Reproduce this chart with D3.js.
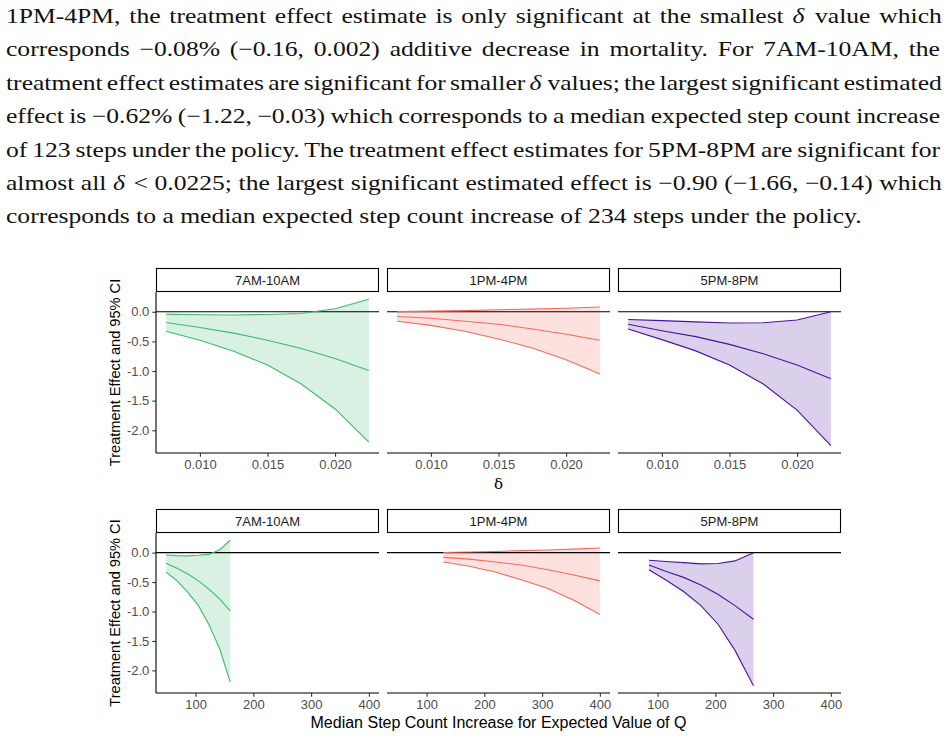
<!DOCTYPE html>
<html>
<head>
<meta charset="utf-8">
<script src="https://cdn.jsdelivr.net/npm/d3@7"></script>
<style>
  body { margin: 0; background: #fff; }
  svg { display: block; }
</style>
</head>
<body>
<div id="chart"></div>
<script>
// paragraph above the figure
var paraLines = [
  "1PM-4PM, the treatment effect estimate is only significant at the smallest δ value which",
  "corresponds −0.08% (−0.16, 0.002) additive decrease in mortality.  For 7AM-10AM, the",
  "treatment effect estimates are significant for smaller δ values; the largest significant estimated",
  "effect is −0.62% (−1.22, −0.03) which corresponds to a median expected step count increase",
  "of 123 steps under the policy.  The treatment effect estimates for 5PM-8PM are significant for",
  "almost all δ < 0.0225; the largest significant estimated effect is −0.90 (−1.66, −0.14) which",
  "corresponds to a median expected step count increase of 234 steps under the policy."
];

// data
var windows = ["7AM-10AM", "1PM-4PM", "5PM-8PM"];
var colors = ["#3dbb6c", "#f66a5a", "#4b12a0"];
var delta = [0.0075, 0.01, 0.0125, 0.015, 0.0175, 0.02, 0.0225];

var stepsAM  = [49, 68, 86, 105, 123, 142, 160];
var stepsMid = [129, 174, 219, 264, 310, 355, 400];
var stepsPM  = [85, 115, 145, 175, 205, 234, 266];

var estAM = [-0.18, -0.265, -0.36, -0.48, -0.62, -0.79, -0.99];
var lowAM = [-0.33, -0.48, -0.665, -0.90, -1.22, -1.64, -2.20];
var upAM  = [-0.04, -0.05, -0.055, -0.045, -0.03, 0.05, 0.21];

var estMid = [-0.08, -0.11, -0.16, -0.21, -0.29, -0.38, -0.48];
var lowMid = [-0.16, -0.23, -0.33, -0.46, -0.61, -0.81, -1.05];
var upMid  = [0.002, 0.01, 0.02, 0.035, 0.045, 0.06, 0.08];

var estPM = [-0.21, -0.32, -0.42, -0.55, -0.71, -0.90, -1.13];
var lowPM = [-0.29, -0.47, -0.66, -0.90, -1.22, -1.66, -2.26];
var upPM  = [-0.13, -0.15, -0.17, -0.19, -0.185, -0.14, 0.0];

var yTicks = [0, -0.5, -1, -1.5, -2];
var deltaTicks = [0.010, 0.015, 0.020];
var stepTicks = [100, 200, 300, 400];

var steps = [stepsAM, stepsMid, stepsPM];
var ests = [estAM, estMid, estPM];
var lows = [lowAM, lowMid, lowPM];
var ups = [upAM, upMid, upPM];

var W = 948, H = 739;
var svg = d3.select("#chart").append("svg").attr("width", W).attr("height", H);

// ---- justified paragraph ----
// Computer Modern is wider than Times, so the text is stretched sideways to match
var textLeft = 6, textRight = 940, lastLineWidth = 856;
var paraTexts = paraLines.map(function(line, i){
  var t = svg.append("text")
    .attr("y", 23 + i * 33.4)
    .attr("font-family", "'Liberation Serif', 'DejaVu Serif', serif")
    .attr("font-size", 21)
    .attr("fill", "#111");
  var parts = line.split("δ");
  parts.forEach(function(p, k){
    var sp = t.append("tspan").text(p);
    if (k > 0) sp.attr("dx", 1.5);
    if (k < parts.length - 1) t.append("tspan").attr("font-style", "italic").text("δ");
  });
  return t;
});
var sx = lastLineWidth / paraTexts[paraTexts.length - 1].node().getComputedTextLength();
paraTexts.forEach(function(t, i){
  t.attr("x", textLeft / sx).attr("transform", "scale(" + sx + ",1)");
  if (i < paraLines.length - 1) {
    var w = t.node().getComputedTextLength();
    var nSpaces = paraLines[i].replace(/\s+/g, " ").split(" ").length - 1;
    t.attr("word-spacing", ((textRight - textLeft) / sx - w) / nSpaces);
  }
});

// ---- facets ----
var panelX = [[156, 379], [387, 610], [618, 841]];
var rows = [
  { stripTop: 268, panelTop: 292, panelBot: 453, xs: function(i){ return delta; },
    ticks: deltaTicks, fmt: d3.format(".3f"), title: "δ", titleY: 489, serifTitle: true },
  { stripTop: 509, panelTop: 533, panelBot: 693, xs: function(i){ return steps[i]; },
    ticks: stepTicks, fmt: d3.format("d"), title: "Median Step Count Increase for Expected Value of Q", titleY: 728, serifTitle: false }
];

var allVals = [].concat(lowAM, lowMid, lowPM, upAM, upMid, upPM);
var yMin = d3.min(allVals), yMax = d3.max(allVals);
var yPad = (yMax - yMin) * 0.05;

var sans = "'Liberation Sans', Arial, Helvetica, sans-serif";

rows.forEach(function(row, r){
  var y = d3.scaleLinear().domain([yMin - yPad, yMax + yPad]).range([row.panelBot, row.panelTop]);

  var allX = r === 0 ? delta : [].concat(stepsAM, stepsMid, stepsPM);
  var xMin = d3.min(allX), xMax = d3.max(allX), xPad = (xMax - xMin) * 0.05;

  windows.forEach(function(name, i){
    var x = d3.scaleLinear().domain([xMin - xPad, xMax + xPad]).range(panelX[i]);
    var g = svg.append("g");
    var xs = row.xs(i);
    var pts = xs.map(function(v, k){ return { x: v, est: ests[i][k], lo: lows[i][k], hi: ups[i][k] }; });

    // ribbon
    g.append("path")
      .datum(pts)
      .attr("fill", colors[i])
      .attr("fill-opacity", 0.2)
      .attr("d", d3.area().x(function(d){ return x(d.x); }).y0(function(d){ return y(d.lo); }).y1(function(d){ return y(d.hi); }));

    // zero line
    g.append("line")
      .attr("x1", panelX[i][0]).attr("x2", panelX[i][1])
      .attr("y1", y(0)).attr("y2", y(0))
      .attr("stroke", "#000").attr("stroke-width", 1.1);

    ["lo", "est", "hi"].forEach(function(key){
      g.append("path")
        .datum(pts)
        .attr("fill", "none")
        .attr("stroke", colors[i])
        .attr("stroke-width", 1.1)
        .attr("d", d3.line().x(function(d){ return x(d.x); }).y(function(d){ return y(d[key]); }));
    });

    // strip
    svg.append("rect")
      .attr("x", panelX[i][0] + 0.5).attr("y", row.stripTop + 0.5)
      .attr("width", panelX[i][1] - panelX[i][0] - 1).attr("height", row.panelTop - row.stripTop - 1)
      .attr("fill", "#fff").attr("stroke", "#000").attr("stroke-width", 1.1);
    svg.append("text")
      .attr("x", (panelX[i][0] + panelX[i][1]) / 2)
      .attr("y", (row.stripTop + row.panelTop) / 2 + 4.5)
      .attr("text-anchor", "middle")
      .attr("font-family", sans).attr("font-size", 13).attr("fill", "#1a1a1a")
      .text(name);

    // x axis
    var xAxis = svg.append("g")
      .attr("transform", "translate(0," + row.panelBot + ")")
      .call(d3.axisBottom(x).tickValues(row.ticks).tickFormat(row.fmt).tickSize(3.7).tickPadding(3));
    xAxis.select(".domain").attr("d", "M" + panelX[i][0] + ",0H" + panelX[i][1]).attr("stroke", "#000").attr("stroke-width", 1.1);
    xAxis.selectAll(".tick line").attr("stroke", "#333").attr("stroke-width", 1.1);
    xAxis.selectAll(".tick text").attr("font-family", sans).attr("font-size", 13).attr("fill", "#4d4d4d");

    // y axis on the left panel only
    if (i === 0) {
      var yAxis = svg.append("g")
        .attr("transform", "translate(" + panelX[0][0] + ",0)")
        .call(d3.axisLeft(y).tickValues(yTicks).tickFormat(d3.format(".1f")).tickSize(3.7).tickPadding(3));
      yAxis.select(".domain").attr("d", "M0," + row.panelTop + "V" + row.panelBot).attr("stroke", "#000").attr("stroke-width", 1.1);
      yAxis.selectAll(".tick line").attr("stroke", "#333").attr("stroke-width", 1.1);
      yAxis.selectAll(".tick text").attr("font-family", sans).attr("font-size", 13).attr("fill", "#4d4d4d")
        .text(function(d){ return d3.format(".1f")(d).replace("−", "-"); });
    }
  });

  // axis titles
  svg.append("text")
    .attr("x", (panelX[0][0] + panelX[2][1]) / 2)
    .attr("y", row.titleY)
    .attr("text-anchor", "middle")
    .attr("font-family", row.serifTitle ? "'DejaVu Serif', serif" : sans)
    .attr("font-size", row.serifTitle ? 15 : 16)
    .attr("fill", "#000")
    .text(row.title);

  svg.append("text")
    .attr("transform", "translate(120," + (row.panelTop + row.panelBot) / 2 + ") rotate(-90)")
    .attr("text-anchor", "middle")
    .attr("font-family", sans).attr("font-size", 14.6).attr("fill", "#000")
    .text("Treatment Effect and 95% CI");
});
</script>
</body>
</html>
